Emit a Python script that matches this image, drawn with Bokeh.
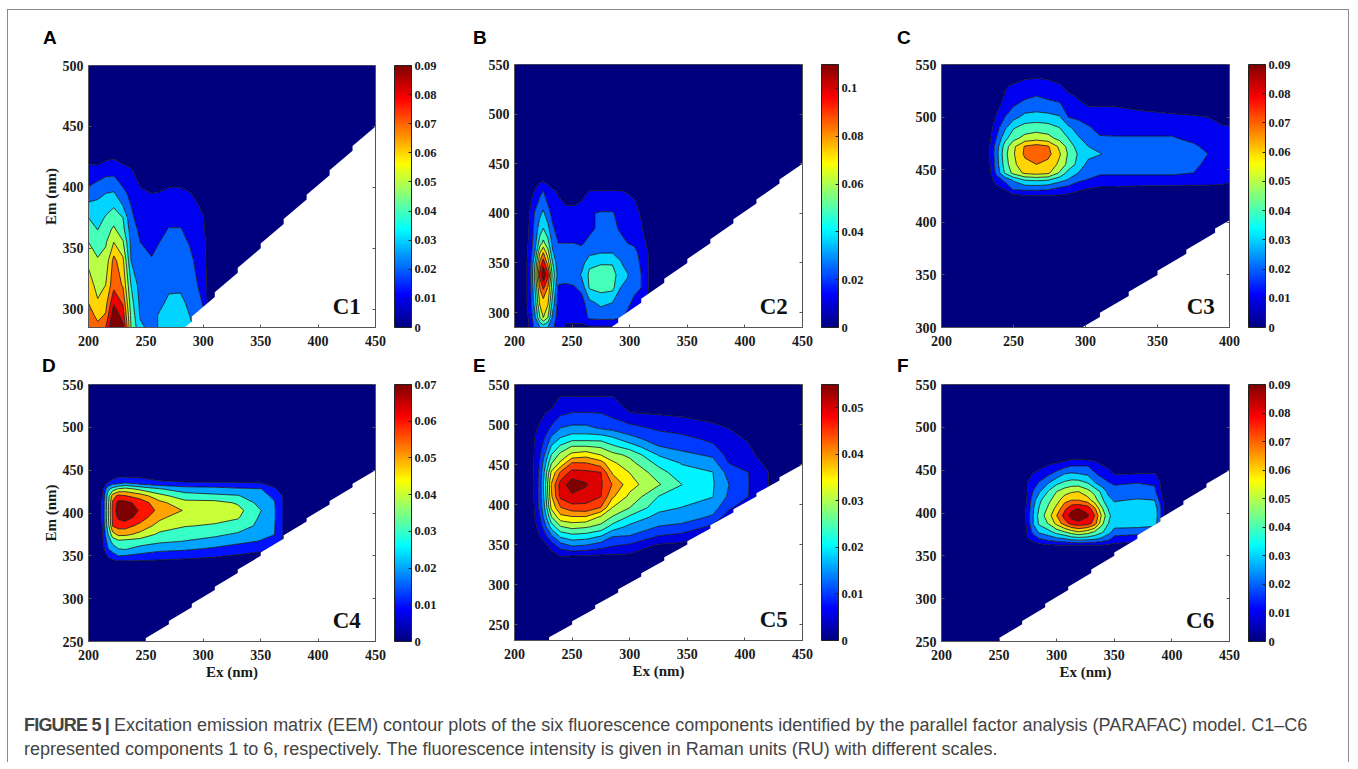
import numpy as np
from bokeh.embed import file_html
from bokeh.resources import INLINE
from bokeh.plotting import figure
from bokeh.models import (ColorBar, Div, FixedTicker, LinearAxis, LinearColorMapper, Column)
from bokeh.core.properties import value

# ---------- data (values in 10^-3 RU) ----------
A_EX = [200, 208, 215, 222, 230, 237, 245, 255, 262, 270, 280, 288, 295, 300, 305]
A_EM = [285, 295, 305, 320, 340, 355, 365, 375, 385, 395, 405, 415, 425]
A_BY_EX = [
    [72, 68, 63, 58, 52, 45, 40, 36, 29, 22, 15, 11, 6],
    [66, 60, 55, 51, 46, 40, 36, 32, 29, 25, 18, 11, 5],
    [72, 64, 60, 54, 48, 44, 41, 37, 32, 27, 21, 13, 7],
    [90, 88, 80, 69, 66, 54, 47, 41, 35, 28, 21, 14, 8],
    [83, 77, 71, 62, 56, 46, 39, 36, 27, 21, 15, 11, 6],
    [45, 43, 40, 36, 27, 25, 23, 20, 18, 15, 12, 9.5, 5],
    [29, 26, 25, 23, 20, 18, 16, 14, 12, 10, 8, 5, 2],
    [24, 24, 23, 21, 18.5, 16, 14, 12, 11, 9, 6, 3, 1],
    [28, 28, 25, 23, 20, 18, 16, 14, 12, 9.5, 6, 3, 1],
    [33, 31, 29, 25, 22, 20, 18.5, 16, 13, 11, 7, 3, 1],
    [34, 32, 29.5, 25, 22, 20, 18.5, 16, 13, 11, 7, 3, 1],
    [31, 27, 25, 23, 20, 17.5, 16, 14, 12, 9.5, 5, 2, 0],
    [22, 21, 20, 18, 16, 14, 12, 11, 9.5, 7, 3, 1, 0],
    [20, 19, 17.5, 15, 13, 12, 11, 9.5, 7, 2, 1, 0, 0],
    [6, 6, 5, 5, 4, 4, 3, 3, 2, 1, 0, 0, 0],
]

B_EX = [205, 213, 218, 222, 225, 229, 233, 238, 245, 252, 258, 265, 275, 285, 292, 298, 304, 310, 316, 322]
B_EM = [285, 295, 310, 325, 338, 350, 360, 370, 385, 400, 412, 423, 432, 440]
B_BY_EM = [
    [0, 12, 26, 32, 36, 32, 24, 16, 9, 9, 9, 9, 9, 9, 9, 9, 9, 9, 9, 9],
    [0, 13, 32, 55, 66, 55, 30, 17, 14, 14, 14, 24, 25, 25, 23, 20, 12, 5, 1, 0],
    [1, 15, 40, 68, 72, 68, 40, 18, 15, 14, 16, 30, 36, 33, 27, 24, 20, 13, 8, 1],
    [1, 15, 45, 78, 90, 76, 48, 20, 20, 21, 25, 45, 48, 47, 33, 30, 24, 22, 12, 1],
    [1, 15, 50, 92, 108, 92, 52, 28, 26, 27, 34, 46, 50, 49, 38, 34, 25, 22, 12, 1],
    [1, 15, 45, 80, 95, 72, 45, 25, 25, 25, 27, 42, 43, 43, 34, 28, 25, 21, 12, 1],
    [1, 14, 35, 66, 78, 60, 35, 24, 24, 24, 25, 30, 33, 33, 30, 27, 24, 20, 11, 1],
    [1, 13, 30, 50, 58, 48, 30, 22, 22, 22, 21, 24, 25, 25, 24, 22, 21, 15, 9, 0],
    [0, 12, 27, 38, 44, 36, 24, 17, 15, 15, 16, 20, 24, 24, 21, 16, 15, 12, 6, 0],
    [0, 11, 24, 31, 35, 27, 18, 14, 13, 13, 15, 21, 23, 23, 18, 15, 14, 10, 4, 0],
    [0, 9, 17, 24, 28, 20, 14, 12, 10, 10, 11, 15, 16, 16, 15, 14, 12, 6, 2, 0],
    [0, 5, 12, 19, 22, 17, 12, 10, 9, 8, 9, 11, 11, 11, 11, 10, 6, 2, 0, 0],
    [0, 1, 6, 10, 11, 8, 5, 4, 3, 3, 3, 4, 5, 5, 5, 4, 2, 0, 0, 0],
    [0, 0, 0, 0, 0, 0, 0, 0, 0, 0, 0, 0, 0, 0, 0, 0, 0, 0, 0, 0],
]

C_EX = [232, 238, 244, 250, 258, 266, 274, 282, 288, 295, 302, 310, 320, 340, 360, 375, 385, 395, 400]
C_EM = [425, 432, 440, 447, 455, 465, 472, 480, 490, 500, 510, 520, 530, 540]
C_BY_EM = [
    [0, 0, 1, 6, 8, 8, 8, 8, 7, 7, 6, 5, 5, 4, 4, 4, 4, 4, 4],
    [0, 6, 10, 20, 21, 21, 20, 16, 14, 10, 9, 8, 8, 7, 7, 7, 7, 7, 7],
    [2, 13, 20, 28, 36, 37, 36, 30, 26, 20, 17, 13, 13, 13, 13, 12, 12, 11, 10],
    [3, 20, 37, 48, 56, 58, 56, 44, 33, 27, 23, 20, 20, 20, 20, 18, 14, 12, 11],
    [4, 22, 40, 52, 60, 63, 60, 52, 42, 33, 24, 22, 22, 22, 22, 19, 17, 13, 12],
    [5, 23, 42, 53, 65, 69, 66, 55, 44, 35, 30, 27.5, 24, 24, 24, 22, 18, 13, 12],
    [5, 22, 40, 52, 64, 67, 64, 52, 42, 32, 27, 24, 23, 23, 23, 20, 15, 12, 12],
    [4, 18, 33, 42, 48, 50, 48, 42, 36, 28, 23, 19, 19, 19, 19, 15, 12, 11, 11],
    [2, 14, 25, 35, 40, 41, 40, 36, 29, 23, 19, 15, 14, 14, 14, 13, 12, 10, 10],
    [0, 10, 18, 24, 30, 31, 30, 28, 18, 16, 14, 12, 12, 12, 11, 10, 9, 6, 5],
    [0, 6, 13, 18, 22, 23, 22, 20, 14, 11, 9, 9, 9, 7, 5, 4, 3, 2, 2],
    [0, 1, 10, 14, 16, 18, 16, 15, 11, 8, 5, 4, 3, 2, 1, 1, 1, 0, 0],
    [0, 0, 8, 10, 13, 14, 13, 10, 5, 2, 1, 0, 0, 0, 0, 0, 0, 0, 0],
    [0, 0, 2, 4, 6, 7, 6, 4, 1, 0, 0, 0, 0, 0, 0, 0, 0, 0, 0],
]

D_EX = [205, 212, 217, 221, 226, 232, 245, 262, 284, 310, 330, 350, 362, 370]
D_EM = [342, 350, 358, 367, 375, 385, 395, 403, 412, 420, 428, 435, 442]
D_BY_EM = [
    [0, 1, 4, 5, 6, 6, 6, 6, 6, 6, 6, 6, 6, 6],
    [0, 3, 10, 13, 17.5, 17, 15, 13, 11, 9.5, 8, 7, 7, 7],
    [0, 5, 17, 22, 26, 27, 23, 20, 19, 16, 13, 10, 9, 8],
    [0, 7, 21, 29, 33, 32, 31, 28, 26, 23, 20, 17, 13, 8],
    [0, 8, 26, 40, 46, 46, 41, 33, 30, 28, 25, 20, 17.6, 8],
    [0, 9, 31, 53, 56, 56, 50, 40, 35.5, 34, 31, 24, 18, 8],
    [0, 10, 33, 54, 63, 66, 57, 46, 38, 38, 36, 25, 18.5, 8],
    [0, 10, 33, 55, 66, 70, 60, 50, 43, 40, 38, 26.5, 18.5, 8],
    [0, 10, 32, 54, 64, 64, 58, 46, 38, 38, 34, 23, 18, 8],
    [0, 9, 30, 48, 55, 53, 48, 38, 30, 28, 27, 20, 16, 8],
    [0, 6, 24, 30, 36, 38, 33, 27, 22, 21, 19, 18, 10, 4],
    [0, 3, 10, 14, 15, 18, 14, 11, 10, 9.5, 9.5, 9, 5, 1],
    [0, 0, 1, 5, 8.5, 8.5, 8, 5, 3, 3, 2, 2, 1, 0],
]

E_EX = [210, 217, 222, 227, 232, 240, 250, 262, 275, 285, 300, 325, 345, 372, 386, 403, 420, 430]
E_EM = [335, 348, 360, 372, 384, 396, 410, 425, 440, 452, 462, 472, 482, 495, 515, 535, 545]
E_BY_EX = [
    [0, 0, 0, 0, 0, 0, 0, 0, 0, 0, 0, 0, 0, 0, 0, 0, 0],
    [0, 0.5, 2, 3, 4.2, 4.6, 4.8, 4.7, 4.8, 4.8, 4.7, 4.6, 4.4, 3.5, 1, 0, 0],
    [0, 1.5, 4.6, 6.5, 9, 10.5, 11, 11, 10.5, 9.5, 8.7, 7.5, 6.5, 5.5, 3, 0, 0],
    [0.5, 3, 8, 13, 17, 20, 22, 23, 21, 18, 15, 12, 10, 7.5, 4.6, 0.5, 0],
    [2, 6.5, 12.5, 20, 27, 33, 36, 37, 33, 27, 23, 19, 15, 10, 5.5, 1, 0],
    [4.6, 11, 19, 27, 35, 41, 47, 48, 42, 33, 29, 24, 19, 14, 8, 4.8, 1],
    [4, 13.8, 21, 29, 36, 44, 49.5, 53, 47.5, 41.5, 33.5, 28, 21.5, 15, 9.2, 4.6, 1],
    [4, 13, 20.5, 28, 36, 44.5, 48, 51, 47, 41.3, 35, 28, 21.5, 15, 9.2, 4.6, 1],
    [3.5, 11, 18, 26, 31, 41, 46, 46.5, 45.9, 38.5, 32, 27, 21.5, 13.5, 9, 4.6, 1],
    [3.5, 9.2, 13.8, 21, 27, 32, 37.5, 41, 36, 33, 29, 24, 19.5, 12.5, 7.5, 4.7, 0.5],
    [3.5, 8, 13.4, 17, 22, 27.5, 31, 34, 32, 29, 26.5, 21, 15.5, 11, 4.6, 1, 0],
    [1, 3.5, 8.8, 13.5, 16.5, 20, 22.8, 28, 25, 21.5, 18, 14, 11.5, 8.5, 4, 0.5, 0],
    [0.5, 3, 7.5, 12.5, 16, 18.2, 21, 23, 20, 18, 15, 12.5, 10.5, 7.5, 3.5, 0.5, 0],
    [0, 1, 2.5, 8, 13, 16, 18.5, 18.8, 18.5, 15.5, 13, 10, 8.2, 5.5, 3, 0, 0],
    [0, 0, 0, 1, 6, 10, 13, 13.8, 12, 9, 7.5, 6.5, 5.5, 4.6, 2, 0, 0],
    [0, 0, 0, 0, 1, 6, 9.2, 9.3, 9.2, 8, 6, 5, 4.3, 3, 1, 0, 0],
    [0, 0, 0, 0, 0, 1, 4, 4.7, 4.7, 3, 2, 1.5, 1, 0.5, 0, 0, 0],
    [0, 0, 0, 0, 0, 0, 1, 2, 1.5, 1, 0.5, 0, 0, 0, 0, 0, 0],
]

F_EX = [270, 275, 280, 285, 293, 300, 307, 313, 319, 327, 333, 339, 345, 350, 370, 385, 390, 395]
F_EM = [362, 370, 378, 388, 397, 405, 415, 425, 435, 445, 455, 465]
F_BY_EM = [
    [0, 3, 5, 6, 7, 8, 8, 8, 8, 8, 8, 8, 7, 7, 6, 5, 4, 1],
    [1, 9, 13, 18, 22, 25, 27, 31, 32, 31, 29, 25, 21, 14, 12, 10, 8, 2],
    [1.5, 11, 22, 29, 33, 40, 45, 50, 54, 50, 44, 38, 30, 24, 22, 18, 9, 2],
    [2, 13, 28, 38, 46, 57, 68, 76, 78, 76, 68, 48, 36, 31, 32, 32, 18, 3],
    [2, 14, 28, 40, 50, 63, 76, 85, 90, 82, 72, 53, 38, 32, 33, 33, 20, 3],
    [2, 13, 27, 37, 47, 57, 70, 79, 81, 78, 65, 47, 35, 31, 32, 32, 20, 3],
    [1.5, 12, 24, 34, 43, 50, 60, 63, 63, 58, 49, 38, 30, 26, 28, 27, 15, 2],
    [1, 10, 19, 26, 37, 45, 50, 53, 54, 48, 42, 34, 24, 21, 21, 20, 10, 1],
    [0.5, 9.5, 14, 19, 27, 34, 38, 40, 40, 36, 28, 22, 18.5, 17, 18, 17, 9, 0.5],
    [0, 5, 10.5, 13, 17, 22, 28, 29, 28, 26, 19, 16, 13, 9, 9.5, 10, 6, 0],
    [0, 1, 3, 6, 10, 12, 15, 18, 18, 18, 15, 10, 7, 3, 3, 3, 1, 0],
    [0, 0, 0, 0, 1, 3, 4, 6, 6, 5, 4, 2, 0, 0, 0, 0, 0, 0],
]

PANEL_LETTERS = ["A", "B", "C", "D", "E", "F"]
COMPONENTS = ["C1", "C2", "C3", "C4", "C5", "C6"]
EX_LIMITS = [(200, 450), (200, 450), (200, 400), (200, 450), (200, 450), (200, 450)]
EM_LIMITS = [(285, 500), (285, 550), (300, 550), (250, 550), (230, 550), (250, 550)]
COLOR_MAX = [0.09, 0.11, 0.09, 0.07, 0.055, 0.09]
BAND_COUNT = [10, 10, 10, 8, 12, 10]
BAR_TICKS = [
    [0, 0.01, 0.02, 0.03, 0.04, 0.05, 0.06, 0.07, 0.08, 0.09],
    [0, 0.02, 0.04, 0.06, 0.08, 0.1],
    [0, 0.01, 0.02, 0.03, 0.04, 0.05, 0.06, 0.07, 0.08, 0.09],
    [0, 0.01, 0.02, 0.03, 0.04, 0.05, 0.06, 0.07],
    [0, 0.01, 0.02, 0.03, 0.04, 0.05],
    [0, 0.01, 0.02, 0.03, 0.04, 0.05, 0.06, 0.07, 0.08, 0.09],
]
EX_TICKS = [[200, 250, 300, 350, 400, 450]] * 2 + [[200, 250, 300, 350, 400]] + [[200, 250, 300, 350, 400, 450]] * 3
EM_TICKS = [[300, 350, 400, 450, 500], [300, 350, 400, 450, 500, 550], [300, 350, 400, 450, 500, 550],
            [250, 300, 350, 400, 450, 500, 550], [250, 300, 350, 400, 450, 500, 550], [250, 300, 350, 400, 450, 500, 550]]
COMPONENT_AT = [(425, 302), (425, 306), (380, 320), (425, 275), (425, 256), (424.5, 275)]
MASK_STEPS = [210, 230, 250, 270, 290, 310, 330, 350, 370, 390, 410, 430, 450]

GRIDS = [
    (A_EX, A_EM, np.array(A_BY_EX, float).T),
    (B_EX, B_EM, np.array(B_BY_EM, float)),
    (C_EX, C_EM, np.array(C_BY_EM, float)),
    (D_EX, D_EM, np.array(D_BY_EM, float)),
    (E_EX, E_EM, np.array(E_BY_EX, float).T),
    (F_EX, F_EM, np.array(F_BY_EM, float)),
]

# ---------- layout in page pixels ----------
FRAMES = [(90, 65, 287, 262), (516, 64, 288, 263), (943, 64, 288, 263),
          (90, 384, 287, 257), (516, 384, 288, 256), (943, 384, 288, 257)]
LETTER_AT = [(43, 27), (473, 27), (897, 27), (42, 355), (473, 355), (897, 355)]
BORDER_L, BORDER_T, BORDER_R = 50, 40, 100
SERIF = "Liberation Serif"
LINE = "#555555"


def jet(t):
    r = np.clip(np.minimum(4 * t - 1.5, 4.5 - 4 * t), 0, 1)
    g = np.clip(np.minimum(4 * t - 0.5, 3.5 - 4 * t), 0, 1)
    b = np.clip(np.minimum(4 * t + 0.5, 2.5 - 4 * t), 0, 1)
    return "#%02x%02x%02x" % (int(r * 255), int(g * 255), int(b * 255))


def pad(ex, em, z, exl, eml):
    ex, em, z = list(ex), list(em), z.copy()
    if ex[0] > exl[0]:
        ex = [exl[0]] + ex
        z = np.hstack([np.zeros((z.shape[0], 1)), z])
    if ex[-1] < exl[1]:
        ex = ex + [exl[1]]
        z = np.hstack([z, np.zeros((z.shape[0], 1))])
    if em[0] > eml[0]:
        em = [eml[0]] + em
        z = np.vstack([np.zeros((1, z.shape[1])), z])
    if em[-1] < eml[1]:
        em = em + [eml[1]]
        z = np.vstack([z, np.zeros((1, z.shape[1]))])
    return np.array(ex, float), np.array(em, float), z


def panel(i):
    fx, fy, fw, fh = FRAMES[i]
    exl, eml = EX_LIMITS[i], EM_LIMITS[i]
    vmax, n = COLOR_MAX[i], BAND_COUNT[i]
    p = figure(frame_width=fw, frame_height=fh, x_range=exl, y_range=eml,
               output_backend="svg", toolbar_location=None,
               min_border_left=BORDER_L, min_border_top=BORDER_T,
               min_border_right=BORDER_R, min_border_bottom=50,
               background_fill_color=None, border_fill_color=None,
               outline_line_color=LINE, outline_line_width=1,
               x_axis_label="Ex (nm)" if i >= 3 else None,
               y_axis_label="Em (nm)" if i in (0, 3) else None,
               styles={"position": "absolute", "left": f"{fx - BORDER_L - 2}px", "top": f"{fy - BORDER_T}px"})
    p.grid.visible = False
    ex, em, z = pad(*GRIDS[i], exl, eml)
    levels = [-1.0] + [vmax * k / n for k in range(1, n)] + [10.0]
    colors = [jet(k / (n - 1)) for k in range(n)]
    p.contour(ex, em, z * 0.001, levels, fill_color=colors, line_color="#111111", line_width=0.8)

    mx, my = [], []
    for s in MASK_STEPS:
        mx += [s, s]
        my += [s, s + 4]
    mx += [450, 210]
    my += [200, 200]
    p.patch(mx, my, fill_color="white", line_color="white", line_width=0)

    p.xaxis.ticker = FixedTicker(ticks=EX_TICKS[i])
    p.yaxis.ticker = FixedTicker(ticks=EM_TICKS[i])
    for ax in (p.xaxis[0], p.yaxis[0]):
        ax.major_label_text_font = SERIF
        ax.major_label_text_font_style = "bold"
        ax.major_label_text_font_size = "14px"
        ax.major_label_text_color = "#1a1a1a"
        ax.axis_label_text_font = SERIF
        ax.axis_label_text_font_style = "bold"
        ax.axis_label_text_font_size = "15px"
        ax.axis_label_text_color = "#1a1a1a"
        ax.axis_line_color = LINE
        ax.major_tick_line_color = LINE
        ax.major_tick_in = 3
        ax.major_tick_out = 0
        ax.minor_tick_in = 0
        ax.minor_tick_out = 0
    p.xaxis[0].axis_label_standoff = 1
    p.yaxis[0].axis_label_standoff = 1
    p.xaxis[0].major_label_standoff = 8
    p.yaxis[0].major_label_standoff = 5

    # mirrored ticks on the right-hand side of the box
    right = LinearAxis(ticker=FixedTicker(ticks=EM_TICKS[i]),
                       major_label_overrides={t: "" for t in EM_TICKS[i]},
                       major_label_standoff=0, major_tick_in=3, major_tick_out=0,
                       minor_tick_in=0, minor_tick_out=0,
                       axis_line_color=LINE, major_tick_line_color=LINE)
    p.add_layout(right, "right")

    mapper = LinearColorMapper(palette=[jet(t) for t in np.linspace(0, 1, 256)], low=0, high=vmax)
    labels = {t: ("0" if t == 0 else f"{t:g}") for t in BAR_TICKS[i]}
    bar = ColorBar(color_mapper=mapper, ticker=FixedTicker(ticks=BAR_TICKS[i]),
                   major_label_overrides=labels, width=17, height=fh, margin=0, padding=0,
                   location=(19, 0), bar_line_color="#222222", major_tick_line_color="#222222",
                   major_tick_in=3, major_tick_out=0, minor_tick_line_color=None,
                   label_standoff=3, major_label_text_font=SERIF,
                   major_label_text_font_style="bold", major_label_text_font_size="12.5px",
                   major_label_text_color="#1a1a1a")
    p.add_layout(bar, "right")

    cx, cy = COMPONENT_AT[i]
    p.text([cx], [cy], text=[COMPONENTS[i]], text_align="center", text_baseline="middle",
           text_font=value(SERIF), text_font_style="bold", text_font_size="23px", text_color="#111111")
    return p


children = [Div(text="", width=1343, height=770, margin=0,
                styles={"position": "absolute", "left": "7px", "top": "9px",
                        "border-top": "1px solid #8a8a8a", "border-left": "1px solid #8a8a8a",
                        "border-right": "1px solid #8a8a8a"})]
children += [panel(i) for i in range(6)]
for (lx, ly), t in zip(LETTER_AT, PANEL_LETTERS):
    children.append(Div(text=t, margin=0, width=30, height=24,
                        styles={"position": "absolute", "left": f"{lx}px", "top": f"{ly}px",
                                "font-family": "Liberation Sans", "font-weight": "bold",
                                "font-size": "19px", "line-height": "22px", "color": "#000"}))
children.append(Div(
    text="<b style='letter-spacing:-0.8px'>FIGURE 5 |</b> Excitation emission matrix (EEM) contour plots of the six fluorescence components "
         "identified by the parallel factor analysis (PARAFAC) model. C1\u2013C6<br>"
         "represented components 1 to 6, respectively. The fluorescence intensity is given in Raman units (RU) "
         "with different scales.",
    margin=0, width=1320, height=50,
    styles={"position": "absolute", "left": "24px", "top": "713px", "font-family": "Liberation Sans",
            "font-size": "18px", "line-height": "24px", "color": "#444", "white-space": "nowrap"}))

root = Column(children=children, width=1342, height=753, styles={"position": "relative"})
open("out.html", "w").write(file_html(root, INLINE))
